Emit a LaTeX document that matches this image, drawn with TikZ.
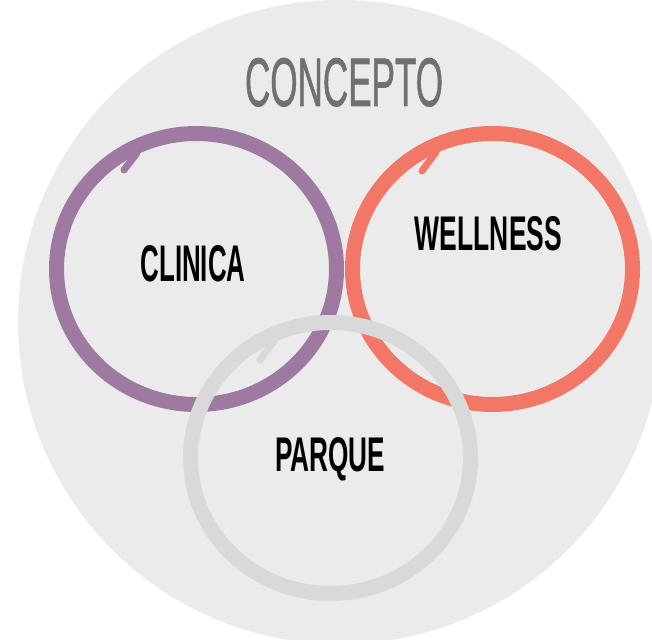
\documentclass[tikz,border=0pt]{standalone}
\usepackage{fontspec}
\usepackage{graphicx}
\setmainfont{Liberation Sans}
\newfontfamily\lblfont{Liberation Sans}
\newfontfamily\titlefont{Liberation Sans}[FakeBold=1.2]
\definecolor{bgcircle}{HTML}{EBEBEB}
\definecolor{ringpurple}{HTML}{9E7AA2}
\definecolor{ringred}{HTML}{F27767}
\definecolor{ringgray}{HTML}{D9D9D9}
\definecolor{titlegray}{HTML}{707070}
\newcommand{\condtxt}[3]{\resizebox{#1}{#2}{#3}}
\tikzset{
  ring/.style={line width=15pt},
  tick/.style={line width=7pt, line cap=round},
  lbl/.style={inner sep=0pt, outer sep=0pt, anchor=base, text=black, font=\lblfont\bfseries},
}
\begin{document}
\begin{tikzpicture}[x=1pt,y=-1pt]
\useasboundingbox (0,0) rectangle (652,639);
\clip (0,0) rectangle (652,639);
% big background circle
\fill[bgcircle] (340,322) circle [radius=322pt];
% title
\node[inner sep=0pt, anchor=base, text=titlegray, font=\titlefont] (concepto) at (344,106) {\condtxt{198pt}{48pt}{CONCEPTO}};
% purple ring
\draw[ring, ringpurple] (196.5,269) ellipse [x radius=140pt, y radius=135.5pt];
\draw[tick, ringpurple] (137,153) -- (124,170);
% red ring
\draw[ring, ringred] (492.5,269) ellipse [x radius=140pt, y radius=135.5pt];
\draw[tick, ringred] (436,152) -- (422,171);
% gray ring (on top)
\draw[ring, ringgray] (330.5,458) ellipse [x radius=140pt, y radius=135.5pt];
\draw[tick, ringgray] (274,341) -- (260,360);
% labels
\node[lbl] (clinica) at (193,281) {\condtxt{105pt}{36pt}{CLINICA}};
\node[lbl] (wellness) at (488.5,250) {\condtxt{147pt}{34pt}{WELLNESS}};
\node[lbl] (parque) at (330,471) {\condtxt{110pt}{34pt}{PARQUE}};
\end{tikzpicture}
\end{document}
